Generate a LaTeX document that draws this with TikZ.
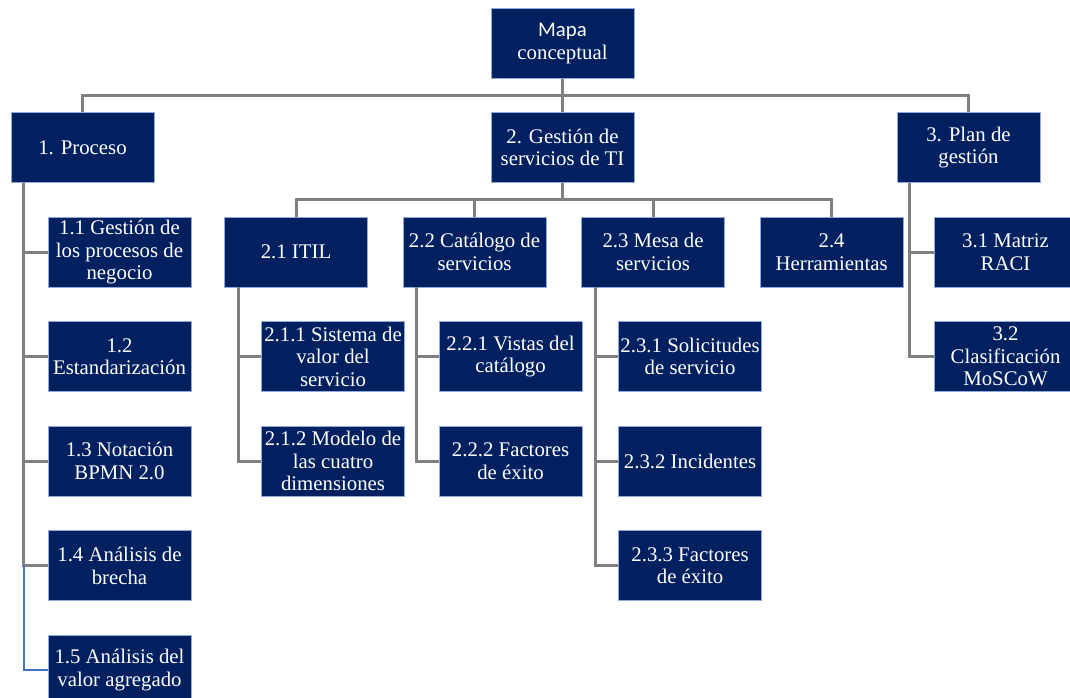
\documentclass[tikz,border=0pt]{standalone}
\usepackage{fontspec}
\setmainfont{LiberationSerif-Regular.ttf}
\newfontfamily\mapafont{Carlito}
\usetikzlibrary{calc, positioning}

\begin{document}
\begin{tikzpicture}[
    x=0.75pt, y=-0.75pt,
]

\definecolor{box_color}{RGB}{0,32,96}
\definecolor{edge_color}{RGB}{143,170,220}
\definecolor{line_color}{RGB}{128,128,128}
\definecolor{last_line_color}{RGB}{68,114,196}

\tikzstyle{box} = [rectangle, minimum width=107.25pt, minimum height=52.5pt, inner sep=0pt, align=center, fill=box_color, draw=edge_color, line width=.4pt, text=white, font=\rmfamily\fontsize{15.6}{16.9}\selectfont]
\tikzstyle{conn} = [draw=line_color, line width=2.25pt]
\tikzstyle{kid} = [box, anchor=north west, xshift=27.75pt]

\useasboundingbox (0,0) rectangle (1070,698);
\clip (0,0) rectangle (1070,698);

% top level
\node (mapa) [box] at (562.5,43.5) {{\mapafont Mapa}\\conceptual};
\node (p1) [box] at (82.5,147.5) {1. Proceso};
\node (p2) [box] at (562.5,147.5) {2. Gesti\'on de\\servicios de TI};
\node (p3) [box] at (968.5,147.5) {3. Plan de\\gesti\'on};

% 1. Proceso
\node (c11) [below=25.5pt of p1.south west, kid] {1.1 Gesti\'on de\\los procesos de\\negocio};
\node (c12) [box, below=25.5pt of c11] {1.2\\Estandarizaci\'on};
\node (c13) [box, below=25.5pt of c12] {1.3 Notaci\'on\\BPMN 2.0};
\node (c14) [box, below=25.5pt of c13] {1.4 An\'alisis de\\brecha};
\node (c15) [box, below=25.5pt of c14] {1.5 An\'alisis del\\valor agregado};

% 2. Gestion
\node (s21) [box] at (296,252) {2.1 ITIL};
\node (s22) [box, right=26.25pt of s21] {2.2 Cat\'alogo de\\servicios};
\node (s23) [box, right=26.25pt of s22] {2.3 Mesa de\\servicios};
\node (s24) [box, right=26.25pt of s23] {2.4\\Herramientas};

\node (s211) [below=25.5pt of s21.south west, kid] {2.1.1 Sistema de\\valor del\\servicio};
\node (s212) [box, below=25.5pt of s211] {2.1.2 Modelo de\\las cuatro\\dimensiones};
\node (s221) [below=25.5pt of s22.south west, kid, xshift=-.75pt] {2.2.1 Vistas del\\cat\'alogo};
\node (s222) [box, below=25.5pt of s221] {2.2.2 Factores\\de \'exito};
\node (s231) [below=25.5pt of s23.south west, kid] {2.3.1 Solicitudes\\de servicio};
\node (s232) [box, below=25.5pt of s231] {2.3.2 Incidentes};
\node (s233) [box, below=25.5pt of s232] {2.3.3 Factores\\de \'exito};

% 3. Plan
\node (c31) [below=25.5pt of p3.south west, kid] {3.1 Matriz\\RACI};
\node (c32) [box, below=25.5pt of c31] {3.2\\Clasificaci\'on\\MoSCoW};

% connectors
\coordinate (bar1) at ($(mapa.south)!.5!(p2.north)$);
\draw[conn] (mapa.south) -- (p2.north);
\draw[conn] (p1.north) |- (bar1) -| (p3.north);

\coordinate (bar2) at ($(p2.south)!.5!(p2.south |- s22.north)$);
\draw[conn] (p2.south) -- (bar2);
\draw[conn] (s21.north) |- (bar2) -| (s24.north);
\draw[conn] (s22.north) -- (s22.north |- bar2);
\draw[conn] (s23.north) -- (s23.north |- bar2);

\coordinate (t1) at ([xshift=9.75pt]p1.south west);
\coordinate (t21) at ([xshift=10.5pt]s21.south west);
\coordinate (t22) at ([xshift=10.5pt]s22.south west);
\coordinate (t23) at ([xshift=10.5pt]s23.south west);
\coordinate (t3) at ([xshift=9.75pt]p3.south west);

\draw[conn] (t1) |- (c14.west);
\foreach \n in {c11, c12, c13}
    \draw[conn] (t1 |- \n.west) -- (\n.west);
\draw[draw=last_line_color, line width=1.5pt] (t1 |- c14.west) |- (c15.west);

\draw[conn] (t21) |- (s212.west);
\draw[conn] (t21 |- s211.west) -- (s211.west);
\draw[conn] (t22) |- (s222.west);
\draw[conn] (t22 |- s221.west) -- (s221.west);
\draw[conn] (t23) |- (s233.west);
\foreach \n in {s231, s232}
    \draw[conn] (t23 |- \n.west) -- (\n.west);
\draw[conn] (t3) |- (c32.west);
\draw[conn] (t3 |- c31.west) -- (c31.west);

\end{tikzpicture}
\end{document}
